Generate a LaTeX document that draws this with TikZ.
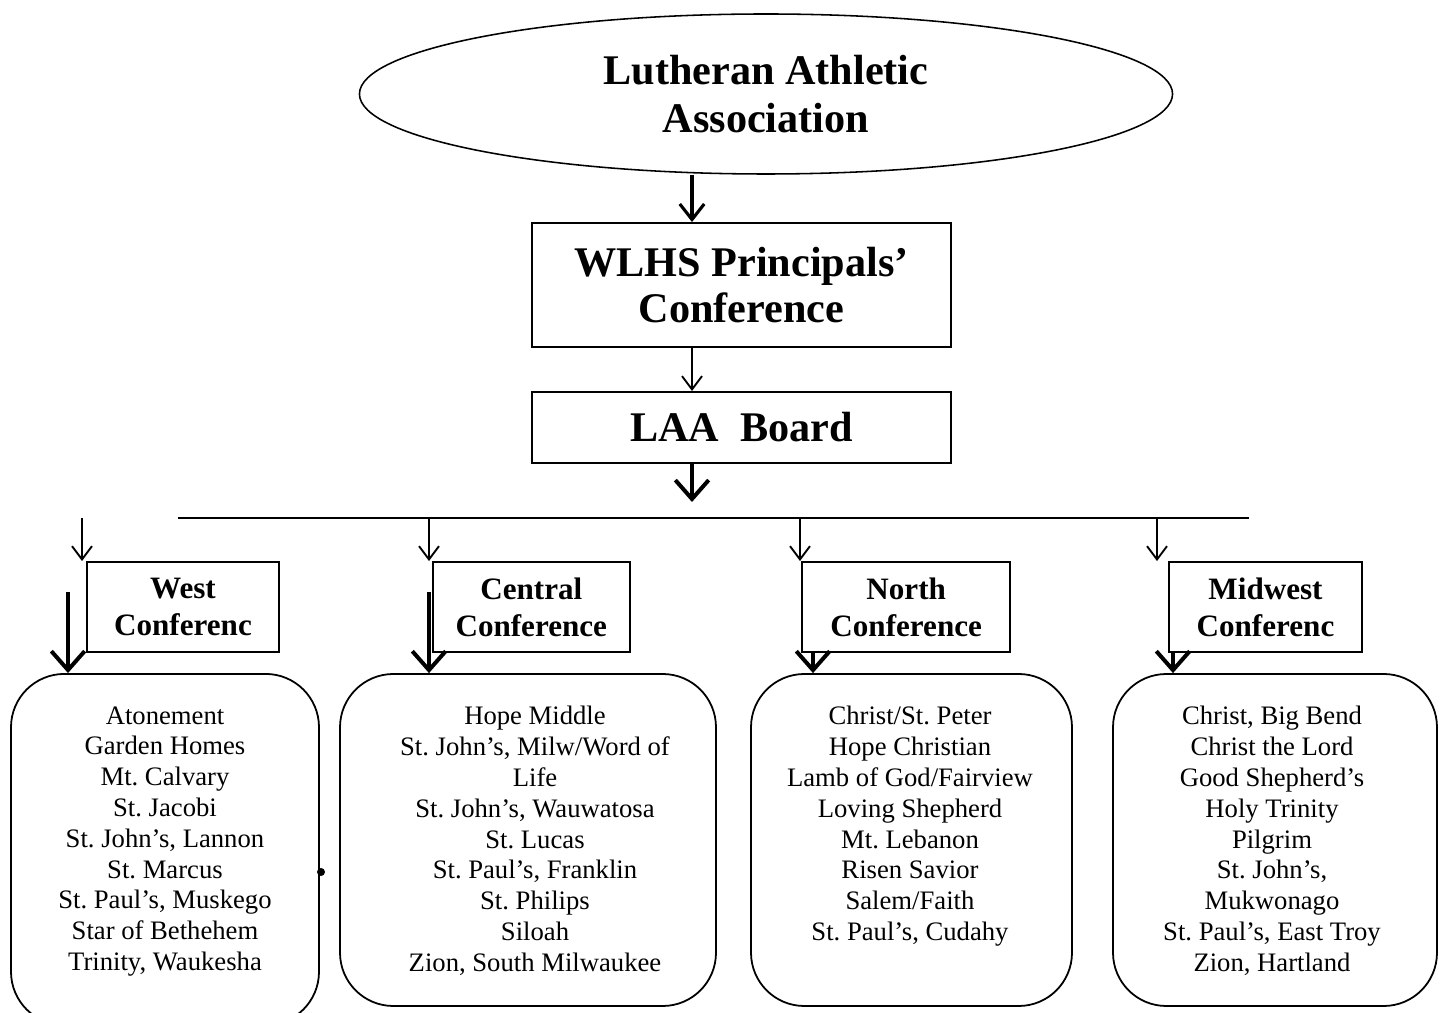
\documentclass[tikz,border=0pt]{standalone}
\usepackage{fontspec}
\setmainfont{Liberation Serif}
\usetikzlibrary{shapes.geometric, arrows.meta, positioning, calc}
\frenchspacing

\begin{document}
\begin{tikzpicture}[
        x=0.45pt, y=-0.45pt,
        top/.style={rectangle, draw, line width=0.85pt, minimum width=188.5pt, align=center, font=\fontsize{19}{20.7}\selectfont\bfseries},
        conf/.style={rectangle, draw, line width=0.85pt, minimum height=40.5pt, align=center, font=\fontsize{14}{16.65}\selectfont\bfseries},
        school/.style={rectangle, draw, rounded corners=24pt, line width=0.8pt},
        names/.style={anchor=north, inner sep=0pt, align=center, font=\fontsize{12}{13.86}\selectfont},
        arrow/.style={-{Straight Barb[length=6pt, width=9pt]}, line width=0.85pt},
        midarrow/.style={-{Straight Barb[length=7pt, width=11pt]}, line width=1.4pt},
        bigarrow/.style={-{Straight Barb[length=8.5pt, width=15pt]}, line width=1.8pt}
    ]
        \useasboundingbox (0,0) rectangle (1444,1013);
        \clip (0,0) rectangle (1444,1013);

        \node[ellipse, draw, line width=0.7pt, minimum width=365.9pt, minimum height=72pt, align=center, font=\fontsize{19}{21.6}\selectfont\bfseries] (laa) at (766,94) {Lutheran Athletic\\Association};
        \node[top, minimum height=55.8pt] (principals) at (741.5,285) {WLHS Principals’\\Conference};
        \node[top, minimum height=32pt] (board) at (741.5,427.5) {LAA~~Board};

        \node[conf, minimum width=86.4pt] (west) at (183,607) {West\\Conferenc};
        \node[conf, minimum width=88.8pt] (central) at (531.3,607) {Central\\Conference};
        \node[conf, minimum width=93.4pt] (north) at (906.2,607) {North\\Conference};
        \node[conf, minimum width=86.9pt] (midwest) at (1265.5,607) {Midwest\\Conferenc};

        \node[school, minimum width=138.6pt, minimum height=158pt] (westlist) at (165,849.5) {};
        \node[school, minimum width=169.2pt, minimum height=149.4pt] (centrallist) at (528,840) {};
        \node[school, minimum width=144.45pt, minimum height=149.4pt] (northlist) at (911.5,840) {};
        \node[school, minimum width=145.8pt, minimum height=149.4pt] (midwestlist) at (1275,840) {};

        \node[names] (westnames) at (165,706) {Atonement\\Garden Homes\\Mt. Calvary\\St. Jacobi\\St. John’s, Lannon\\St. Marcus\\St. Paul’s, Muskego\\Star of Bethehem\\Trinity, Waukesha};
        \node[names] (centralnames) at (535,706) {Hope Middle\\St. John’s, Milw/Word of\\Life\\St. John’s, Wauwatosa\\St. Lucas\\St. Paul’s, Franklin\\St. Philips\\Siloah\\Zion, South Milwaukee};
        \node[names] (northnames) at (910,706) {Christ/St. Peter\\Hope Christian\\Lamb of God/Fairview\\Loving Shepherd\\Mt. Lebanon\\Risen Savior\\Salem/Faith\\St. Paul’s, Cudahy};
        \node[names] (midwestnames) at (1272,706) {Christ, Big Bend\\Christ the Lord\\Good Shepherd’s\\Holy Trinity\\Pilgrim\\St. John’s,\\Mukwonago\\St. Paul’s, East Troy\\Zion, Hartland};

        \coordinate (spine) at (692,0);
        \coordinate (busdrop) at (692,502);
        \coordinate (busL) at (178,518);
        \coordinate (busR) at (1249,518);
        \coordinate (tapW) at (82,518);
        \coordinate (tapC) at (429,518);
        \coordinate (tapN) at (800,518);
        \coordinate (tapM) at (1157,518);
        \coordinate (dropW) at (68,592);
        \coordinate (dropC) at (429,592);
        \coordinate (dropN) at (813,652);
        \coordinate (dropM) at (1173,652);

        \draw[midarrow] (spine |- laa.south) -- (spine |- principals.north);
        \draw[arrow] (spine |- principals.south) -- (spine |- board.north);
        \draw[bigarrow] (spine |- board.south) -- (busdrop);
        \draw[line width=0.9pt] (busL) -- (busR);

        \draw[arrow] (tapW) -- (tapW |- west.north);
        \draw[arrow] (tapC) -- (tapC |- central.north);
        \draw[arrow] (tapN) -- (tapN |- north.north);
        \draw[arrow] (tapM) -- (tapM |- midwest.north);

        \draw[bigarrow] (dropW) -- (dropW |- westlist.north);
        \draw[bigarrow] (dropC) -- (dropC |- centrallist.north);
        \draw[bigarrow] (dropN) -- (dropN |- northlist.north);
        \draw[bigarrow] (dropM) -- (dropM |- midwestlist.north);

        \fill (321,872) circle (1.8pt);
    \end{tikzpicture}
\end{document}
